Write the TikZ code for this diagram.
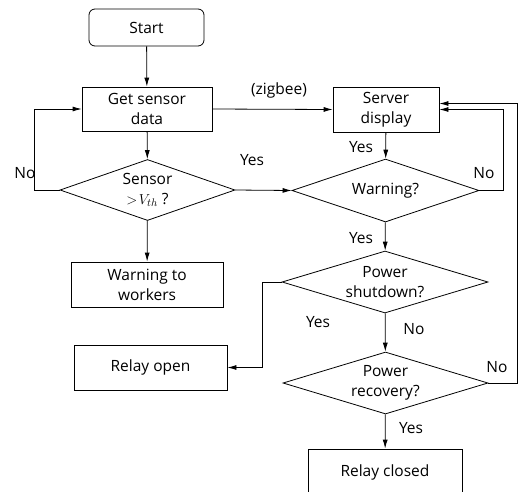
\documentclass[tikz,border=0pt]{standalone}
\usepackage{fontspec}
\setmainfont{Open Sans}
\usetikzlibrary{shapes.geometric,arrows.meta}
\tikzset{
  block/.style={draw, line width=0.8pt, minimum height=45pt, align=center, inner sep=1pt},
  decision/.style={draw, diamond, aspect=3.2, line width=0.8pt, inner sep=0pt, align=center},
  flow/.style={line width=0.8pt, -{Latex[length=9pt,width=5pt]}},
  lbl/.style={inner sep=0pt}
}
\begin{document}
\begin{tikzpicture}[x=1pt,y=-1pt,font=\fontsize{15.5}{20}\selectfont]
  \useasboundingbox (0,0) rectangle (519,491);
  % boxes
  \node[block, rounded corners=6pt, minimum width=115pt, minimum height=37pt] (start) at (146.5,27.5) {Start};
  \node[block, minimum width=130pt, minimum height=44pt] (getdata) at (147,109) {Get sensor\\data};
  \node[decision, minimum width=175pt, minimum height=61pt, aspect=2.9] (sensor) at (147.5,190) {Sensor\\$>\!V_{th}$ ?};
  \node[block, minimum width=152pt] (workers) at (147,284.5) {Warning to\\workers};
  \node[block, minimum width=106pt] (server) at (386,109.5) {Server\\display};
  \node[decision, minimum width=187pt, minimum height=63pt] (warn) at (385.5,190.5) {Warning?};
  \node[decision, minimum width=206pt, minimum height=62pt, aspect=3.3] (shut) at (385,282) {Power\\shutdown?};
  \node[block, minimum width=153pt] (relayopen) at (150.5,367.5) {Relay open};
  \node[decision, minimum width=205pt, minimum height=62pt, aspect=3.3] (recov) at (385.5,383) {Power\\recovery?};
  \node[block, minimum width=154pt, minimum height=46pt] (relayclosed) at (385,472) {Relay closed};

  % connectors
  \draw[flow] (start) -- (getdata);
  \draw[flow] (getdata) -- (sensor);
  \draw[flow] (sensor) -- (workers);
  \draw[flow] (sensor.west) -- ++(-25,0) |- (getdata.west);
  \draw[flow] (sensor.east) -- (warn.west);
  \draw[flow] (getdata.east) -- (server.west);
  \draw[flow] (server) -- (warn);
  \draw[flow] (warn.east) -- ++(24,0) |- (server.east);
  \draw[flow] (warn) -- (shut);
  \draw[flow] (shut.west) -- ++(-19,0) |- (relayopen.east);
  \draw[flow] (shut) -- (recov);
  \draw[flow] (recov.east) -- ++(29,0) |- ([yshift=6pt]server.east);
  \draw[flow] (recov) -- (relayclosed);

  % labels
  \node[lbl] (noA) at (25,173) {No};
  \node[lbl] (yesA) at (252,160) {Yes};
  \node[lbl] (zig) at (279,90) {(zigbee)};
  \node[lbl] (yesB) at (361,147) {Yes};
  \node[lbl] (noB) at (484,173) {No};
  \node[lbl] (yesC) at (361,238) {Yes};
  \node[lbl] (yesD) at (318,322) {Yes};
  \node[lbl] (noC) at (414,329) {No};
  \node[lbl] (noD) at (497,367) {No};
  \node[lbl] (yesE) at (411,428) {Yes};
\end{tikzpicture}
\end{document}
